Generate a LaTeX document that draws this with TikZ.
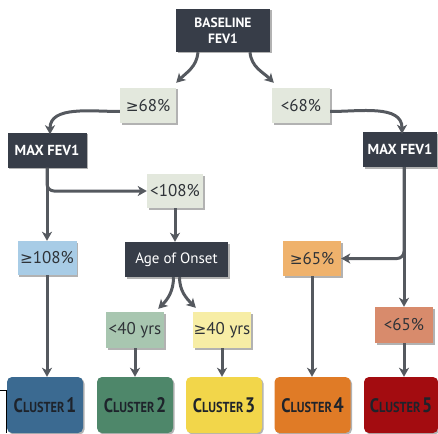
\documentclass[tikz,border=0pt]{standalone}
\usepackage{fontspec}
\setmainfont{PT Sans}
\newfontfamily\condfont[FakeStretch=0.85]{PT Sans}
\newfontfamily\symfont[Scale=0.9]{DejaVu Sans}
\newcommand{\gesym}{{\symfont ≥}}
\usetikzlibrary{arrows.meta,shadows}
\definecolor{darkbox}{HTML}{373D48}
\definecolor{lightlab}{HTML}{E3E8DD}
\definecolor{arrowc}{HTML}{55595F}
\definecolor{textdark}{HTML}{2F3338}
\definecolor{cblue}{HTML}{A8CCE6}
\definecolor{csage}{HTML}{A8C6B0}
\definecolor{cpyel}{HTML}{F7EDA5}
\definecolor{clorange}{HTML}{EFB26C}
\definecolor{csalmon}{HTML}{D88B6C}
\definecolor{cla}{HTML}{3B6A91}
\definecolor{clb}{HTML}{4E876A}
\definecolor{clc}{HTML}{F2D64A}
\definecolor{cld}{HTML}{E07B26}
\definecolor{cle}{HTML}{A30C10}
\definecolor{cltext}{HTML}{1E232B}
\newcommand{\clname}[1]{\condfont\bfseries{\fontsize{19.5}{19}\selectfont C}{\fontsize{14.5}{14}\selectfont LUSTER}\,{\fontsize{21}{20}\selectfont #1}}
\tikzset{
  shad/.style={drop shadow={shadow xshift=1.5pt,shadow yshift=-1.5pt,opacity=0.3,fill=black}},
  darkn/.style={shad,fill=darkbox,text=white,font=\bfseries\fontsize{14.5}{16}\selectfont,align=center,inner sep=0pt},
  labn/.style={shad,fill=#1,text=textdark,font=\fontsize{17}{18}\selectfont,inner sep=0pt},
  clus/.style={shad,fill=#1,text=cltext,rounded corners=5pt,minimum width=76pt,minimum height=56pt,inner sep=0pt},
  arr/.style={draw=arrowc,line width=3pt,-{Stealth[length=9pt,width=10pt,inset=2.5pt]}},
}
\begin{document}
\begin{tikzpicture}[x=1pt,y=-1pt]
\useasboundingbox (0,0) rectangle (438,433);
% decision nodes
\node[darkn,font=\bfseries\fontsize{13.5}{15.5}\selectfont,minimum width=94pt,minimum height=43pt] (base) at (223,30.5) {BASELINE\\FEV1};
\node[darkn,minimum width=79pt,minimum height=35pt] (maxL) at (47,150) {MAX FEV1};
\node[darkn,minimum width=74pt,minimum height=35pt] (maxR) at (400,149.5) {MAX FEV1};
\node[darkn,font=\fontsize{15}{16}\selectfont,minimum width=103pt,minimum height=35pt] (age) at (176.5,259.5) {Age of Onset};
% labels
\node[labn=lightlab,minimum width=56pt,minimum height=35pt] (ge68) at (148,105.5) {\gesym68\%};
\node[labn=lightlab,minimum width=58pt,minimum height=35pt] (lt68) at (301,105.5) {<68\%};
\node[labn=lightlab,minimum width=56pt,minimum height=34pt] (lt108) at (175,191) {<108\%};
\node[labn=cblue,minimum width=59pt,minimum height=34pt] (ge108) at (47,258) {\gesym108\%};
\node[labn=clorange,minimum width=58pt,minimum height=35pt] (ge65) at (312,258.5) {\gesym65\%};
\node[labn=csage,minimum width=58pt,minimum height=36pt] (lt40) at (135,330) {<40 yrs};
\node[labn=cpyel,minimum width=58pt,minimum height=36pt] (ge40) at (222,330) {\gesym40 yrs};
\node[labn=csalmon,minimum width=58pt,minimum height=36pt] (lt65) at (404,325) {<65\%};
% clusters
\node[clus=cla] (c1) at (45,405) {\clname{1}};
\node[clus=clb] (c2) at (135,405) {\clname{2}};
\node[clus=clc] (c3) at (224,405) {\clname{3}};
\node[clus=cld] (c4) at (312.5,405) {\clname{4}};
\node[clus=cle,minimum width=74pt] (c5) at (401,405) {\clname{5}};
% connectors
\draw[arr] ([xshift=-25pt]base.south) to[out=-95,in=45] ([xshift=0pt,yshift=5pt]ge68.north east);
\draw[arr] ([xshift=27pt]base.south) to[out=-85,in=135] ([xshift=2pt,yshift=5pt]lt68.north west);
\draw[arr] ([yshift=-6pt]ge68.west) to[out=180,in=90] ([xshift=3pt,yshift=-2pt]maxL.north);
\draw[arr] ([yshift=-6pt]lt68.east) to[out=0,in=90] ([xshift=2pt,yshift=-2pt]maxR.north);
\draw[arr] (maxL.south) -- (maxL.south |- ge108.north);
\draw[arr,rounded corners=7pt] (maxL.south) |- (lt108.west);
\draw[arr] (lt108.south) -- (lt108.south |- age.north);
\draw[arr] ([xshift=-3pt]age.south) to[out=-90,in=45] ([xshift=-6pt,yshift=3pt]lt40.north east);
\draw[arr] ([xshift=3pt]age.south) to[out=-90,in=135] ([xshift=3pt,yshift=4pt]ge40.north west);
\draw[arr] (lt65.north |- maxR.south) -- (lt65.north);
\draw[arr,rounded corners=7pt] (lt65.north |- maxR.south) |- (ge65.east);
\draw[arr] (ge108.south) -- (ge108.south |- c1.north);
\draw[arr] (lt40.south) -- (lt40.south |- c2.north);
\draw[arr] (ge40.south) -- (ge40.south |- c3.north);
\draw[arr] (ge65.south) -- (ge65.south |- c4.north);
\draw[arr] (lt65.south) -- (lt65.south |- c5.north);
% edge artifact
\draw[black,line width=0.8pt] (0,390) -- (6.5,390) -- (6.5,433);
\end{tikzpicture}
\end{document}
